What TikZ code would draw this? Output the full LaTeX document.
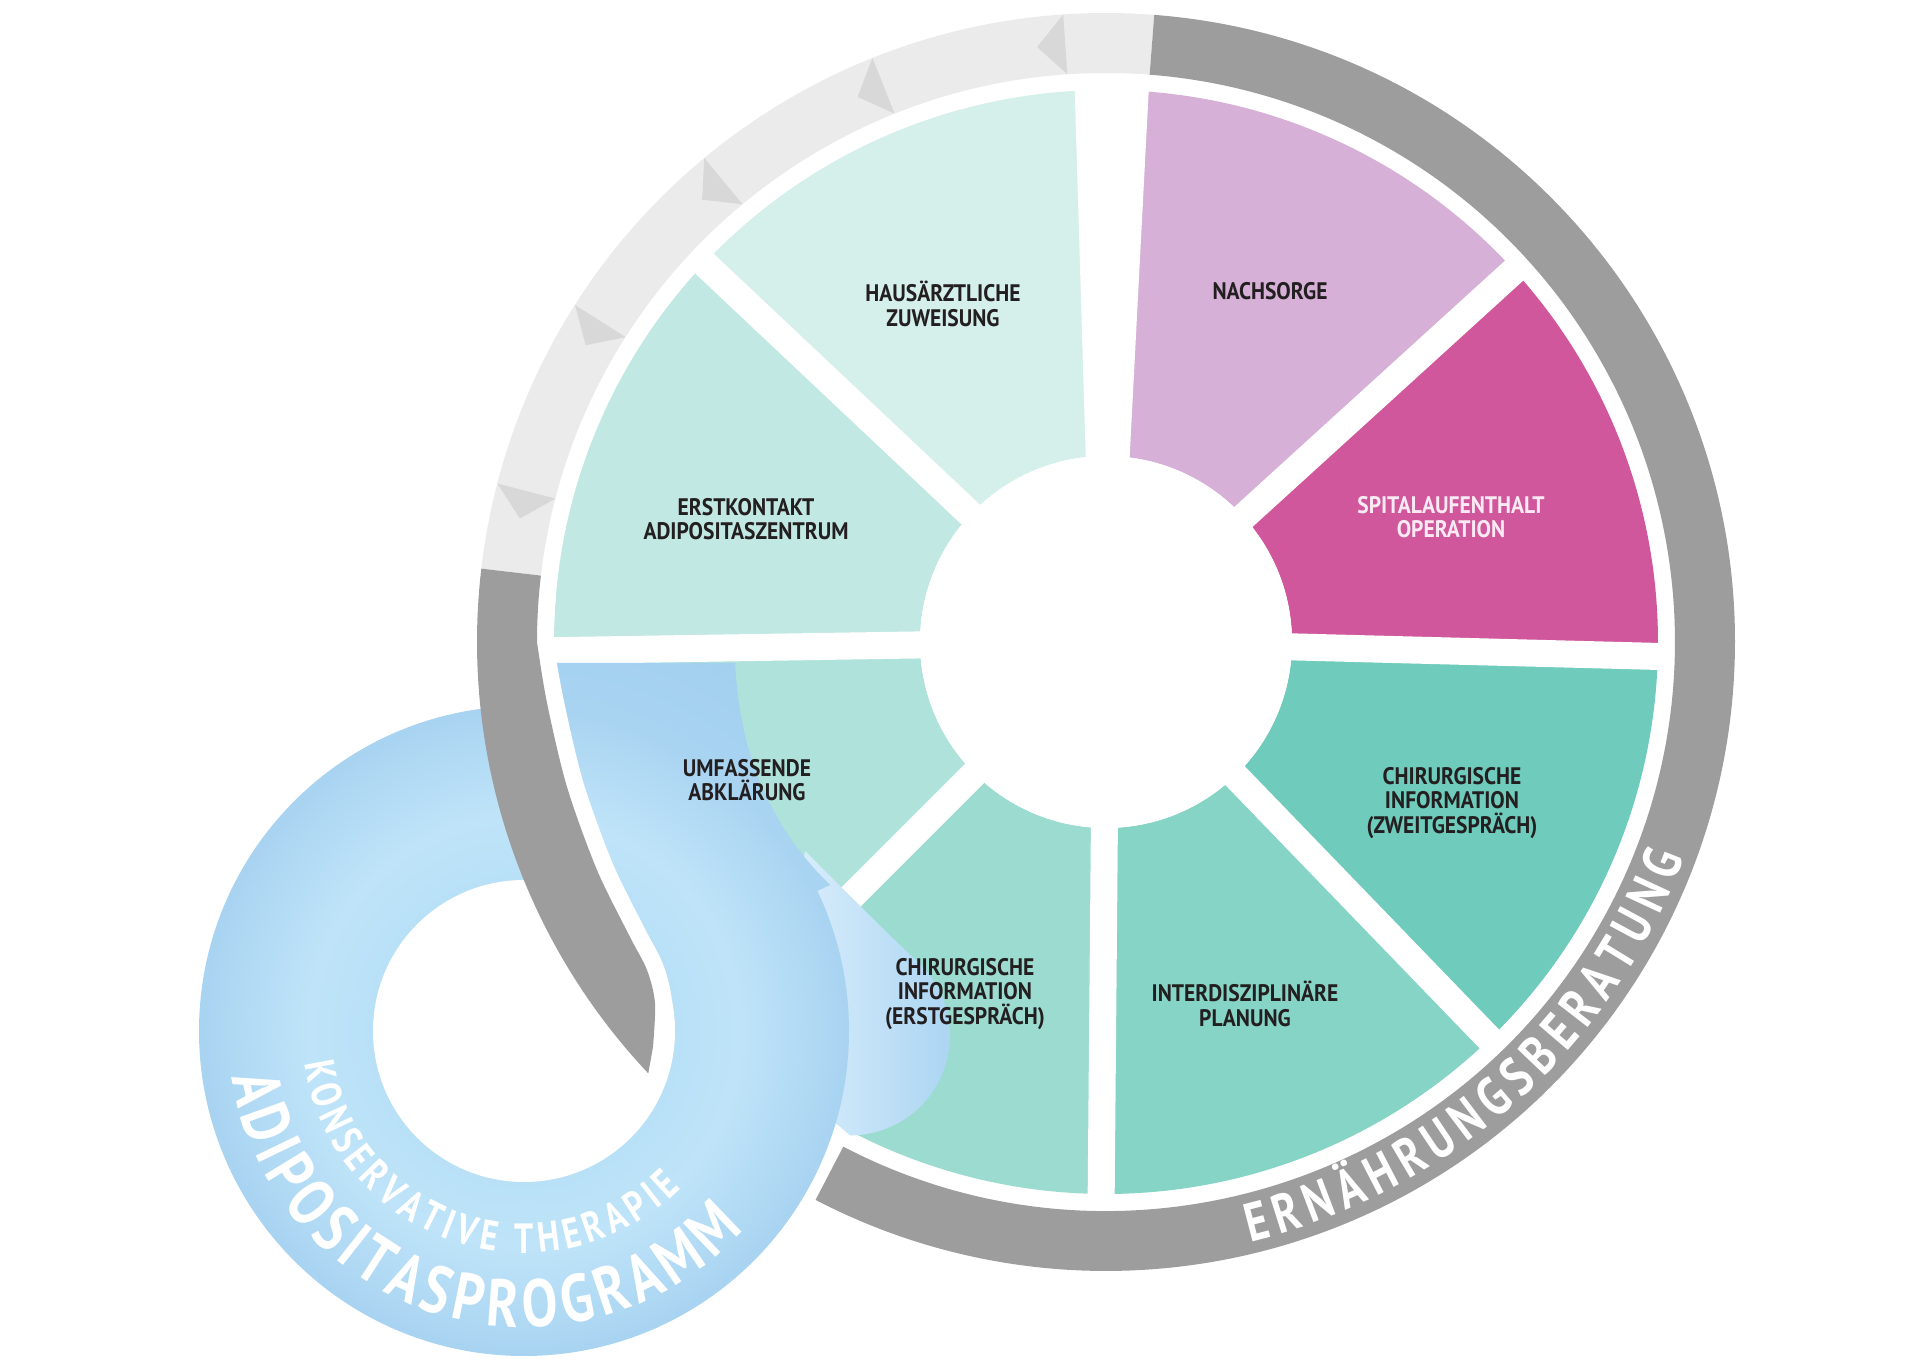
\documentclass[tikz,border=0pt]{standalone}
\usepackage{fontspec}
\setmainfont{PT Sans}
\newfontfamily\labelfont[FakeStretch=0.9]{PT Sans}
\newfontfamily\ringfont[FakeStretch=0.8]{PT Sans}
\usetikzlibrary{decorations.text}

% Farben
\definecolor{segHaus}{HTML}{D5EFEA}
\definecolor{segNach}{HTML}{D6B0D6}
\definecolor{segSpital}{HTML}{D0579B}
\definecolor{segChirZwei}{HTML}{6FCBBB}
\definecolor{segInter}{HTML}{86D4C6}
\definecolor{segChirErst}{HTML}{9BDBD0}
\definecolor{segUmf}{HTML}{AEE2DA}
\definecolor{segErst}{HTML}{C1E8E2}
\definecolor{ringDark}{HTML}{9D9D9D}
\definecolor{ringLight}{HTML}{EBEBEB}
\definecolor{ringArrow}{HTML}{D8D8D8}
\definecolor{labelInk}{HTML}{231F20}
\definecolor{spitalInk}{HTML}{FBEAF3}
\definecolor{loopInner}{HTML}{B8E0F7}
\definecolor{loopLight}{HTML}{BFE4F9}
\definecolor{loopEdge}{HTML}{A8D3F1}
\definecolor{loopTail}{HTML}{A4D0F0}
\definecolor{bumpLight}{HTML}{E0F1FD}
\definecolor{bumpEdge}{HTML}{A9D4F2}

\pgfdeclareradialshading{blueLoop}{\pgfpoint{0bp}{0bp}}{%
  color(0bp)=(loopInner); color(5.8bp)=(loopInner); color(8.3bp)=(loopLight);
  color(12.5bp)=(loopEdge); color(16bp)=(loopTail); color(50bp)=(loopTail)}

\begin{document}
\begin{tikzpicture}[
    x=0.01cm, y=0.01cm,
    % Stile
    gapLine/.style={draw=white, line width=0.27cm},
    segLabel/.style={font=\labelfont\bfseries\fontsize{6.8pt}{6.96pt}\selectfont,
        text=labelInk, align=center, inner sep=0pt},
    ringText/.style={decorate, decoration={text along path, text align={fit to path},
        text color=white, text={#1}}}
  ]
  \useasboundingbox (0,0) rectangle (1920,1366);

  % --- 1. RAD UND SCHLEIFE ---
  \coordinate (wheel) at (1106,724);
  \coordinate (loop) at (524,335);
  \def\rIn{186}
  \def\rOut{552}
  \def\gIn{569}
  \def\gOut{629}

  % --- 2. SEGMENTE ---
  \begin{scope}[shift={(wheel)}]
    \foreach \a/\b/\col in {89.4/136.7/segHaus, 42.3/89.4/segNach, -1.5/42.3/segSpital,
        -46/-1.5/segChirZwei, -90.5/-46/segInter, -135/-90.5/segChirErst,
        -179.1/-135/segUmf, 136.7/180.9/segErst}
      \fill[\col] (\a:\rIn) arc (\a:\b:\rIn) -- (\b:\rOut) arc (\b:\a:\rOut) -- cycle;

    % weisse Fugen
    \foreach \g in {42.3,-1.5,-46,-90.5,-135,180.9,136.7}
      \draw[gapLine] (0,0) -- (\g:560);
    \fill[white] (-17,76) -- (-32,576) -- (44,576) -- (18,76) -- cycle;
    \fill[white] (0,0) circle (\rIn);

    % --- 3. AUSSENRING ---
    \fill[ringLight] (85.6:\gIn) arc (85.6:173.3:\gIn) -- (173.3:\gOut) arc (173.3:85.6:\gOut) -- cycle;
    \foreach \t in {93.9,111.8,129.7,147.6,165.4}
      \fill[ringArrow] (\t:\gOut) -- (\t+2.7:599) -- (\t:\gIn) -- cycle;
    \fill[ringDark] (-117.5:\gIn) arc (-117.5:85.6:\gIn) -- (85.6:\gOut) arc (85.6:-117.5:\gOut) -- cycle;
  \end{scope}

  % --- 4. ADIPOSITASPROGRAMM (blaue Schleife) ---
  \shade[left color=bumpLight, right color=bumpEdge]
    (805,515) .. controls (850,470) and (890,430) .. (920,402)
    arc (45.6:-90:100) -- (770,300) -- cycle;
  \begin{scope}
    \clip (500,703) -- (735,703) .. controls (740,610) and (770,540) .. (830,481)
      -- (700,420) -- (560,420) -- cycle;
    \shade[shading=blueLoop] (loop) circle (650);
  \end{scope}
  \begin{scope}
    \clip (loop) circle (325);
    \shade[shading=blueLoop] (loop) circle (650);
  \end{scope}
  \fill[white] (loop) circle (151);

  % Haken des grauen Rings ueber der Schleife
  \begin{scope}[shift={(wheel)}]
    \draw[white, line width=0.34cm] plot[smooth] coordinates {(-458,-431) (-453,-405) (-451,-361)
      (-459,-328) (-476,-295) (-509,-228) (-539,-145) (-559,-61) (-569,0) (-567,48)};
    \fill[ringDark] (173.3:\gOut) arc (173.3:223.3:\gOut)
      -- plot[smooth] coordinates {(-453,-405) (-451,-361) (-459,-328) (-476,-295)
      (-509,-228) (-539,-145) (-559,-61) (-569,0)} arc (180:173.3:\gIn) -- cycle;
  \end{scope}

  % --- 5. BESCHRIFTUNG ---
  \node[segLabel] (haus) at (943,1062) {HAUSÄRZTLICHE\\ZUWEISUNG};
  \node[segLabel] (nachsorge) at (1270,1075) {NACHSORGE};
  \node[segLabel, text=spitalInk] (spital) at (1451,849) {SPITALAUFENTHALT\\OPERATION};
  \node[segLabel] (chirZwei) at (1452,563) {CHIRURGISCHE\\INFORMATION\\(ZWEITGESPRÄCH)};
  \node[segLabel] (planung) at (1245,362) {INTERDISZIPLINÄRE\\PLANUNG};
  \node[segLabel] (chirErst) at (965,372) {CHIRURGISCHE\\INFORMATION\\(ERSTGESPRÄCH)};
  \node[segLabel] (abklaerung) at (747,586) {UMFASSENDE\\ABKLÄRUNG};
  \node[segLabel] (erstkontakt) at (746,847) {ERSTKONTAKT\\ADIPOSITASZENTRUM};

  % Text entlang der Ringe
  \begin{scope}[shift={(loop)}]
    \path[ringText={|\ringfont\bfseries\fontsize{19pt}{20pt}\selectfont|ADIPOSITASPROGRAMM}]
      (189:296) arc (189:318:296);
    \path[ringText={|\ringfont\bfseries\fontsize{12pt}{13pt}\selectfont|KONSERVATIVE THERAPIE}]
      (188.3:222) arc (188.3:315:222);
  \end{scope}
  \begin{scope}[shift={(wheel)}]
    \path[ringText={|\ringfont\bfseries\fontsize{15.5pt}{16pt}\selectfont|ERNÄHRUNGSBERATUNG}]
      (-76.5:617) arc (-76.5:-20.5:617);
  \end{scope}

\end{tikzpicture}
\end{document}
